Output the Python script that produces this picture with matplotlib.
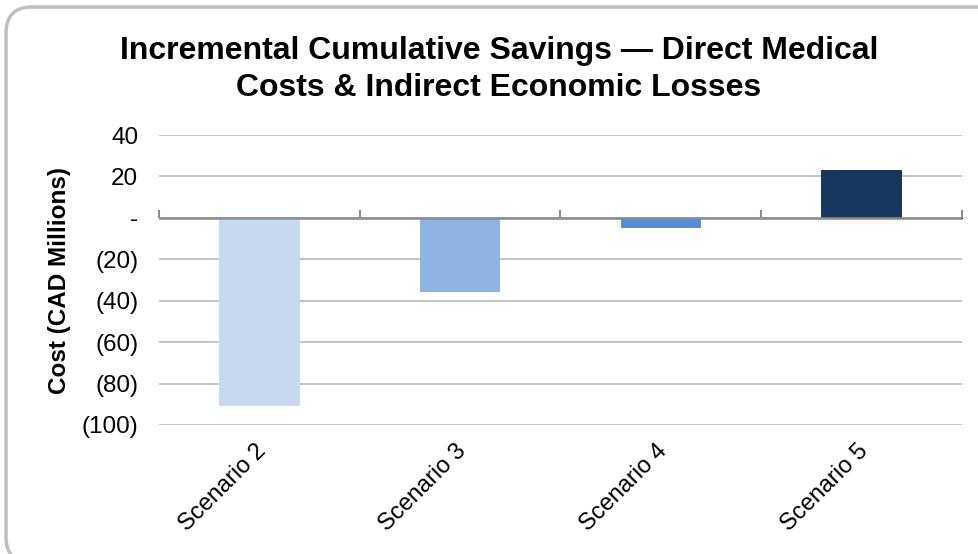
import matplotlib.pyplot as plt
from matplotlib.patches import FancyBboxPatch
from matplotlib.ticker import FuncFormatter
from matplotlib.transforms import ScaledTranslation

plt.rcParams['font.family'] = ['Liberation Sans', 'DejaVu Sans']

scenarios = ["Scenario 2", "Scenario 3", "Scenario 4", "Scenario 5"]
savings = [-91, -36, -5, 23]
colors = ["#C6D9F1", "#8DB4E2", "#558ED5", "#17375E"]
y_ticks = [40, 20, 0, -20, -40, -60, -80, -100]
title_lines = ["Incremental Cumulative Savings \u2014 Direct Medical",
               "Costs & Indirect Economic Losses"]


def paren_fmt(v, pos):
    if v == 0:
        return "-"
    if v < 0:
        return f"({abs(v):.0f})"
    return f"{v:.0f}"


W, H = 979, 554
fig = plt.figure(figsize=(W / 100, H / 100), dpi=100)

# background axes in pixel units for the rounded frame
bg = fig.add_axes([0, 0, 1, 1])
bg.set_xlim(0, W)
bg.set_ylim(H, 0)
bg.axis("off")
frame = FancyBboxPatch((6, 7), 1010, 556,
                       boxstyle="round,pad=0,rounding_size=26",
                       facecolor="white", edgecolor="#BFBFBF", linewidth=2.5)
bg.add_patch(frame)

ax = fig.add_axes([159 / W, 1 - 425 / H, (962 - 159) / W, (425 - 135) / H])
ax.patch.set_alpha(0)

x = list(range(len(scenarios)))
ax.bar(x, savings, width=0.4, color=colors, zorder=3)

ax.set_xlim(-0.5, 3.5)
ax.set_ylim(-100, 40)
ax.set_yticks(y_ticks)
ax.yaxis.set_major_formatter(FuncFormatter(paren_fmt))
ax.grid(axis="y", color="#BFBFBF", linewidth=1.3, zorder=0)
for s in ax.spines.values():
    s.set_visible(False)
ax.tick_params(axis="y", length=0, pad=15, labelsize=17.5)

ax.set_xticks(x)
ax.set_xticklabels(scenarios, rotation=45, ha="right", va="center",
                   rotation_mode="anchor", fontsize=17)
ax.tick_params(axis="x", length=0, pad=0)
for lbl in ax.get_xticklabels():
    lbl.set_transform(lbl.get_transform() + ScaledTranslation(0.03, -0.23, fig.dpi_scale_trans))

# category axis sitting on zero
ax.axhline(0, color="#8C8C8C", linewidth=1.8, zorder=4)
zero_axis = ax.secondary_xaxis(100 / 140)
zero_axis.set_xticks([-0.5, 0.5, 1.5, 2.5, 3.5])
zero_axis.set_xticklabels([])
zero_axis.tick_params(direction="out", length=6, width=1.5, color="#8C8C8C")
zero_axis.spines["bottom"].set_visible(False)

ax.set_ylabel("Cost (CAD Millions)", fontsize=17.5, fontweight="bold")
ax.yaxis.set_label_coords(-(159 - 71) / (962 - 159), 0.5)

for line, base in zip(title_lines, [59, 96]):
    fig.text(499 / W, 1 - base / H, line, ha="center", va="baseline",
             fontsize=23, fontweight="bold")

fig.savefig("out.png", dpi=100)
